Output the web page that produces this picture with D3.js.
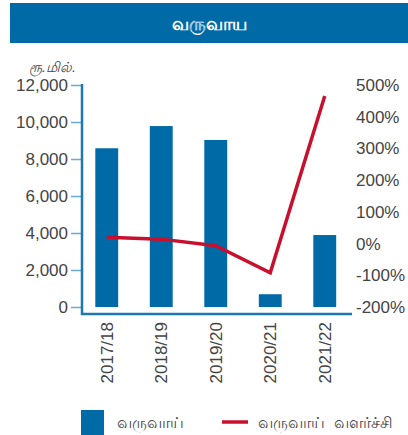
<!DOCTYPE html>
<meta charset='utf-8'>
<style>
    html, body {
        margin: 0;
        background: white;
    }

    svg text {
        font-family: 'Liberation Sans', Arial, sans-serif;
        fill: #444;
    }

    .axis text {
        font-size: 17px;
    }
</style>
<title>வருவாய</title>
<body>

<script src='https://cdn.jsdelivr.net/npm/d3@7'></script>
<script>

	// data
	let years = ['2017/18', '2018/19', '2019/20', '2020/21', '2021/22'];
	let revenue = [8580, 9780, 9030, 690, 3890];
	let growth = [20, 14, -7, -92, 465];
	let leftTicks = [0, 2000, 4000, 6000, 8000, 10000, 12000];
	let rightTicks = [-200, -100, 0, 100, 200, 300, 400, 500];

	let blue = '#006aa7',
		red = '#c8102e';

	let svg = d3.select('body').append('svg')
		.attr('width', 408)
		.attr('height', 435);

	// title bar
	svg.append('rect')
		.attr('x', 10)
		.attr('y', 3)
		.attr('width', 398)
		.attr('height', 40)
		.attr('fill', blue);

	svg.append('text')
		.attr('x', 209)
		.attr('y', 30)
		.attr('text-anchor', 'middle')
		.style('fill', 'white')
		.style('font-size', '18px')
		.style('font-weight', 'bold')
		.text('வருவாய');

	let x = d3.scaleBand()
		.domain(years)
		.range([79.5, 352])
		.paddingInner(0.58)
		.paddingOuter(0.29);

	let y = d3.scaleLinear()
		.domain([0, 12000])
		.range([307, 85]);

	let y2 = d3.scaleLinear()
		.domain([-200, 500])
		.range([307, 85]);

	// bars
	svg.selectAll('.bar')
		.data(years)
		.enter().append('rect')
		.attr('class', 'bar')
		.attr('x', function (d) { return x(d); })
		.attr('width', x.bandwidth())
		.attr('y', function (d, i) { return y(revenue[i]); })
		.attr('height', function (d, i) { return y(0) - y(revenue[i]); })
		.attr('fill', blue);

	// growth line
	let line = d3.line()
		.x(function (d, i) { return x(years[i]) + x.bandwidth() / 2; })
		.y(function (d) { return y2(d); });

	svg.append('path')
		.datum(growth)
		.attr('d', line)
		.attr('fill', 'none')
		.attr('stroke', red)
		.attr('stroke-width', 3.5);

	// left axis
	let leftAxis = svg.append('g')
		.attr('class', 'axis')
		.attr('transform', 'translate(82,0)')
		.call(d3.axisLeft(y)
			.tickValues(leftTicks)
			.tickFormat(d3.format(','))
			.tickSize(11)
			.tickPadding(3));
	leftAxis.select('.domain').remove();
	leftAxis.selectAll('.tick line').attr('stroke', '#6aa9d3').attr('stroke-width', 1.5);

	svg.append('path')
		.attr('d', d3.line()([[82, 84], [82, 314], [352, 314]]))
		.attr('fill', 'none')
		.attr('stroke', '#1d77b3')
		.attr('stroke-width', 2.5);

	// right axis
	let rightAxis = svg.append('g')
		.attr('class', 'axis')
		.attr('transform', 'translate(352,0)')
		.call(d3.axisRight(y2)
			.tickValues(rightTicks)
			.tickFormat(function (d) { return d + '%'; })
			.tickSize(0)
			.tickPadding(4));
	rightAxis.select('.domain').remove();

	// x labels
	svg.append('g')
		.selectAll('text')
		.data(years)
		.enter().append('text')
		.attr('transform', function (d) {
			return 'translate(' + (x(d) + x.bandwidth() / 2 + 6) + ',322) rotate(-90)';
		})
		.attr('text-anchor', 'end')
		.style('font-size', '17px')
		.text(function (d) { return d; });

	// unit label
	svg.append('text')
		.attr('x', 29)
		.attr('y', 72)
		.style('font-size', '14px')
		.style('font-style', 'italic')
		.text('ரூ.மில்.');

	// legend
	svg.append('rect')
		.attr('x', 81)
		.attr('y', 410)
		.attr('width', 23)
		.attr('height', 25)
		.attr('fill', blue);

	svg.append('text')
		.attr('x', 117)
		.attr('y', 428)
		.style('font-size', '16px')
		.text('வருவாய்');

	svg.append('line')
		.attr('x1', 222)
		.attr('x2', 248)
		.attr('y1', 422)
		.attr('y2', 422)
		.attr('stroke', red)
		.attr('stroke-width', 3.5);

	svg.append('text')
		.attr('x', 258)
		.attr('y', 428)
		.style('font-size', '16px')
		.attr('xml:space', 'preserve')
		.text('வருவாய்  வளர்ச்சி');

</script>
</body>
